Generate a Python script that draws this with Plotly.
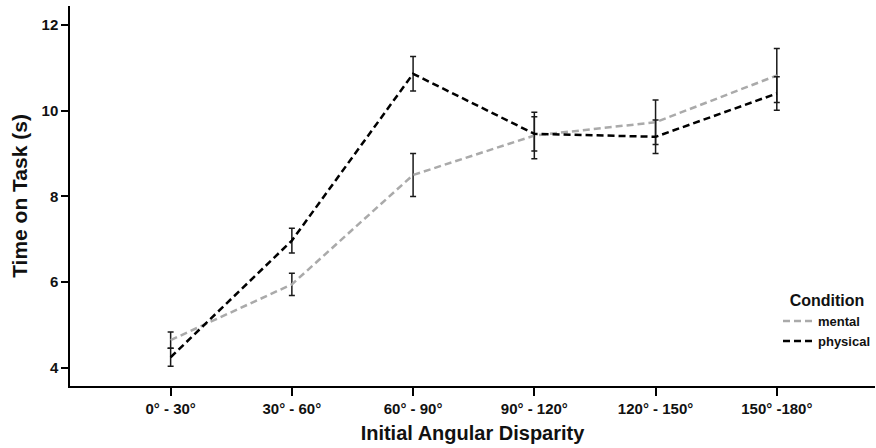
import plotly.graph_objects as go

categories = ["0° - 30°", "30° - 60°", "60° - 90°", "90° - 120°", "120° - 150°", "150° -180°"]
mental = [4.65, 5.95, 8.50, 9.42, 9.73, 10.82]
mental_err = [0.19, 0.26, 0.50, 0.54, 0.52, 0.63]
physical = [4.25, 6.97, 10.86, 9.46, 9.39, 10.40]
physical_err = [0.21, 0.29, 0.40, 0.40, 0.39, 0.39]
y_ticks = [4, 6, 8, 10, 12]

FONT = "Liberation Sans, Arial, sans-serif"

fig = go.Figure()
fig.add_trace(go.Scatter(
    x=categories, y=mental, name="mental", mode="lines",
    line=dict(color="#aaaaaa", width=2.5, dash="7px,4px"),
    error_y=dict(type="data", array=mental_err, visible=True,
                 color="#1a1a1a", thickness=1.5, width=3),
))
fig.add_trace(go.Scatter(
    x=categories, y=physical, name="physical", mode="lines",
    line=dict(color="#000000", width=2.5, dash="7px,4px"),
    error_y=dict(type="data", array=physical_err, visible=True,
                 color="#1a1a1a", thickness=1.5, width=3),
))

fig.update_layout(
    width=876, height=448,
    margin=dict(l=70, r=0, t=6, b=62),
    paper_bgcolor="white", plot_bgcolor="white",
    font=dict(family=FONT, color="#111111"),
    showlegend=True,
    legend=dict(
        x=0.88, y=0.265, xanchor="left", yanchor="top",
        title=dict(text="<b>Condition</b>", side="top center",
                   font=dict(size=16, family=FONT, color="#111")),
        font=dict(size=13, family=FONT, color="#111", weight="bold"),
        bgcolor="rgba(0,0,0,0)", tracegroupgap=0, itemwidth=30,
    ),
)
fig.update_xaxes(
    type="category", range=[-0.83, 5.81],
    showline=True, linecolor="#000", linewidth=1.5,
    ticks="outside", ticklen=8, tickwidth=2, tickcolor="#000",
    showgrid=False, zeroline=False,
    tickfont=dict(size=15, family=FONT, color="#111", weight="bold"),
    title=dict(text="<b>Initial Angular Disparity</b>", standoff=10,
               font=dict(size=20, family=FONT, color="#111")),
)
fig.update_yaxes(
    range=[3.58, 12.44], tickvals=y_ticks,
    showline=True, linecolor="#000", linewidth=1.5,
    ticks="outside", ticklen=7, tickwidth=2, tickcolor="#000",
    showgrid=False, zeroline=False,
    tickfont=dict(size=15, family=FONT, color="#111", weight="bold"),
    title=dict(text="<b>Time on Task (s)</b>", standoff=8,
               font=dict(size=21, family=FONT, color="#111")),
)

fig.write_html(
    "out.html",
    config={"displayModeBar": False},
    post_script="document.body.style.margin='0';document.body.style.overflow='hidden';",
)
